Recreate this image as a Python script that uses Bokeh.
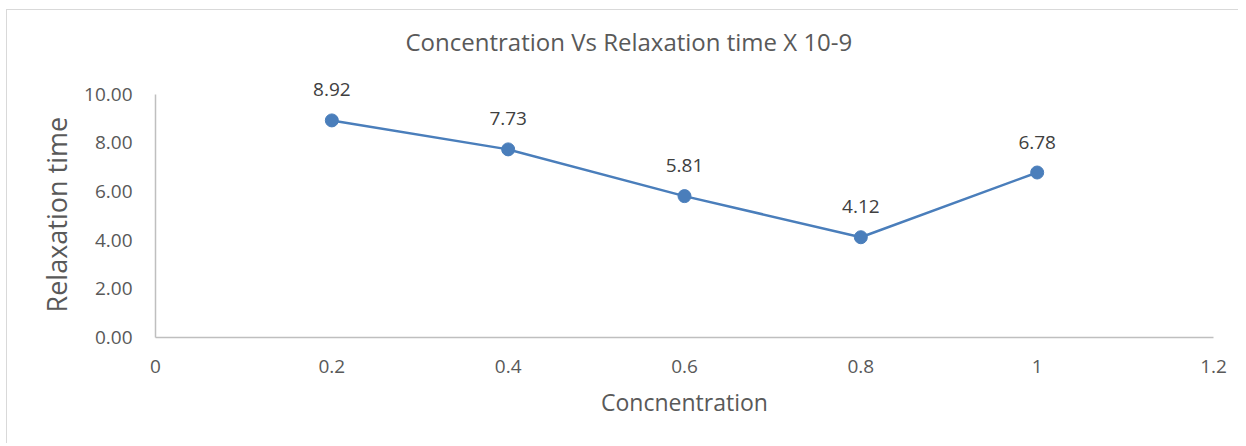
from bokeh.plotting import figure
from bokeh.models import ColumnDataSource, LabelSet, FixedTicker, Range1d, NumeralTickFormatter, Title
from bokeh.core.properties import value
from bokeh.embed import file_html
from bokeh.resources import INLINE

concentration = [0.2, 0.4, 0.6, 0.8, 1.0]
relaxation = [8.92, 7.73, 5.81, 4.12, 6.78]
labels = ["8.92", "7.73", "5.81", "4.12", "6.78"]
x_ticks = [0, 0.2, 0.4, 0.6, 0.8, 1.0, 1.2]
x_tick_labels = ["0", "0.2", "0.4", "0.6", "0.8", "1", "1.2"]
y_ticks = [0, 2, 4, 6, 8, 10]

FONT = "Open Sans"
BLUE = "#4A7EBB"

src = ColumnDataSource(dict(x=concentration, y=relaxation, lab=labels))

p = figure(width=1232, height=434, output_backend="svg", toolbar_location=None,
           x_range=Range1d(0, 1.2), y_range=Range1d(0, 11.3),
           min_border_left=148, min_border_right=26, min_border_top=52, min_border_bottom=107,
           title="Concentration  Vs Relaxation time X 10-9")
p.styles = {"border-left": "1px solid #d9d9d9", "border-top": "1px solid #d9d9d9",
            "margin-left": "6px", "margin-top": "9px"}
p.outline_line_color = None
p.grid.visible = False

p.title.align = "left"
p.title.offset = 250
p.title.text_font = FONT
p.title.text_font_size = "24px"
p.title.text_font_style = "normal"
p.title.text_color = "#595959"
p.title.standoff = 10

p.line("x", "y", source=src, line_color=BLUE, line_width=2.5)
p.scatter("x", "y", source=src, size=13, fill_color=BLUE, line_color=BLUE)

p.add_layout(LabelSet(x="x", y="y", text="lab", source=src, y_offset=24,
                      text_align="center", text_baseline="bottom",
                      text_font=value(FONT), text_font_size="19px", text_color="#404040"))

for ax in (p.xaxis[0], p.yaxis[0]):
    ax.axis_line_color = "#bfbfbf"
    ax.axis_line_width = 1.5
    ax.major_tick_line_color = None
    ax.minor_tick_line_color = None
    ax.major_label_text_font = FONT
    ax.major_label_text_font_size = "19px"
    ax.major_label_text_color = "#595959"
    ax.axis_label_text_font = FONT
    ax.axis_label_text_font_style = "normal"
    ax.axis_label_text_color = "#595959"

p.xaxis[0].ticker = FixedTicker(ticks=x_ticks)
p.xaxis[0].major_label_overrides = {t: l for t, l in zip(x_ticks, x_tick_labels)}
p.xaxis[0].major_label_standoff = 16
p.xaxis[0].axis_label = "Concnentration"
p.xaxis[0].axis_label_text_font_size = "23px"
p.xaxis[0].axis_label_standoff = 10

p.yaxis[0].ticker = FixedTicker(ticks=y_ticks)
p.yaxis[0].bounds = (0, 10)
p.yaxis[0].formatter = NumeralTickFormatter(format="0.00")
p.yaxis[0].major_label_standoff = 17

ytitle = Title(text="Relaxation time", align="left", offset=25, standoff=13,
               text_font=FONT, text_font_size="27px", text_font_style="normal",
               text_color="#595959")
p.add_layout(ytitle, "left")

open("out.html", "w").write(file_html(p, INLINE))
